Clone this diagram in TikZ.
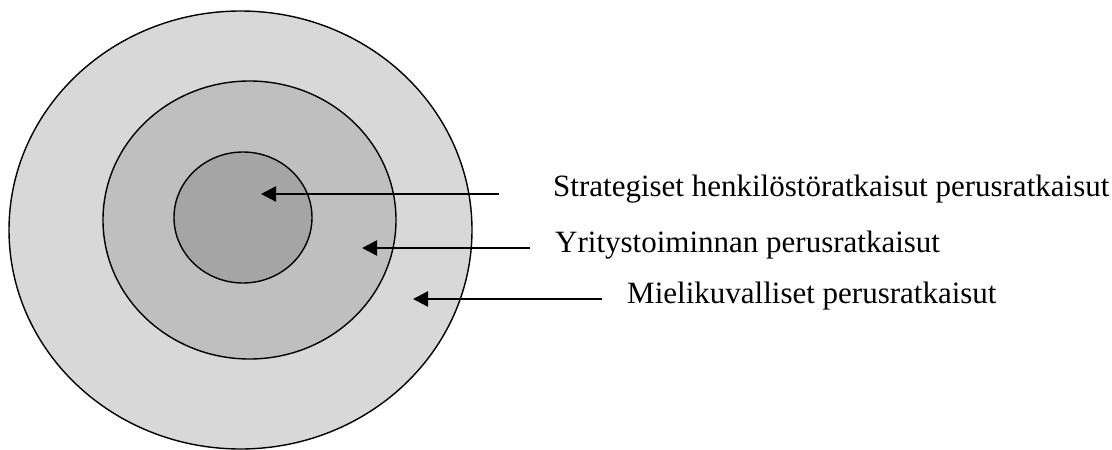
\documentclass[tikz,border=0pt]{standalone}
\usepackage{fontspec}
\setmainfont{Liberation Serif}
\usetikzlibrary{shapes.geometric,arrows.meta}
\definecolor{ringouter}{HTML}{D8D8D8}
\definecolor{ringmid}{HTML}{BFBFBF}
\definecolor{ringinner}{HTML}{A5A5A5}
\begin{document}
\begin{tikzpicture}[x=1pt,y=-1pt,
  ring/.style={ellipse, draw=black, line width=1.4pt, inner sep=0pt},
  pointer/.style={line width=2.4pt, -{Triangle[length=15pt,width=15pt]}},
  label/.style={anchor=base west, inner sep=0pt, font=\fontsize{31}{36}\selectfont}]
  \useasboundingbox (0,0) rectangle (1112,450);
  % nested layers
  \node[ring, fill=ringouter, minimum width=463pt, minimum height=438pt] (outer) at (240.5,230) {};
  \node[ring, fill=ringmid, minimum width=293pt, minimum height=278pt] (middle) at (249.5,220) {};
  \node[ring, fill=ringinner, minimum width=138pt, minimum height=131pt] (inner) at (243,217.5) {};
  % arrow ends
  \coordinate (t1) at (499,194);  \coordinate (h1) at (261,194);
  \coordinate (t2) at (530,248);  \coordinate (h2) at (362,248);
  \coordinate (t3) at (602,299);  \coordinate (h3) at (413,299);
  \draw[pointer] (t1) -- (h1);
  \draw[pointer] (t2) -- (h2);
  \draw[pointer] (t3) -- (h3);
  % labels
  \node[label] (l1) at (553,196) {Strategiset henkilöstöratkaisut perusratkaisut};
  \node[label] (l2) at (555,252) {Yritystoiminnan perusratkaisut};
  \node[label] (l3) at (627,303) {Mielikuvalliset perusratkaisut};
\end{tikzpicture}
\end{document}
